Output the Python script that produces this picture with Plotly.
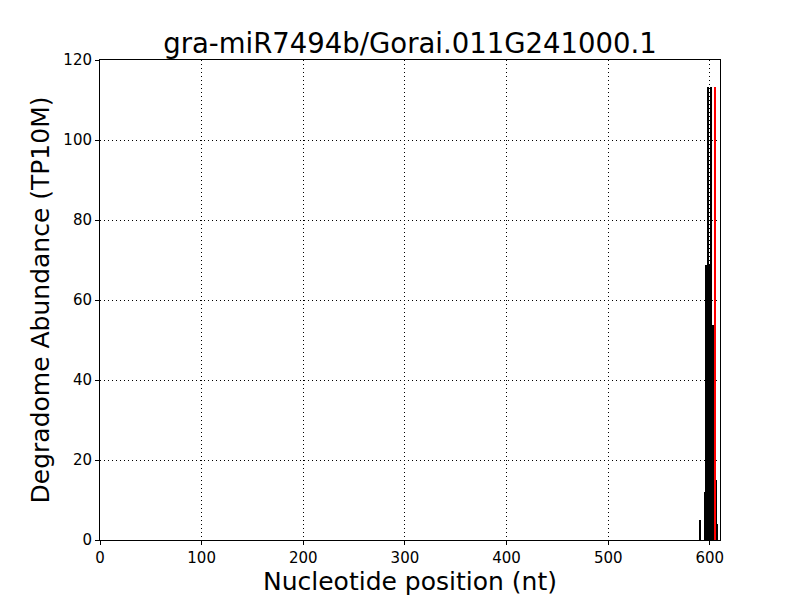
import plotly.graph_objects as go

positions = [590, 595, 596, 597, 598, 599, 600, 601, 602, 603, 604, 606, 607]
abundance = [5, 12, 68.75, 68.75, 113.25, 68.75, 53.75, 113.25, 53.75, 53.75, 53.75, 15, 4]
red_positions = [605]
red_abundance = [113.25]

title = "gra-miR7494b/Gorai.011G241000.1"
x_label = "Nucleotide position (nt)"
y_label = "Degradome Abundance (TP10M)"

FONT = "DejaVu Sans"

fig = go.Figure()
fig.add_trace(go.Bar(x=positions, y=abundance, width=0.9,
                     marker=dict(color="black", line=dict(width=0)), showlegend=False))
fig.add_trace(go.Bar(x=red_positions, y=red_abundance, width=1.2,
                     marker=dict(color="red", line=dict(width=0)), showlegend=False))

axis_common = dict(
    showline=True, linecolor="black", linewidth=1, mirror=True,
    ticks="outside", ticklen=4, tickcolor="black",
    showgrid=True, gridcolor="black", griddash="1px,3px", gridwidth=1,
    zeroline=False, tickfont=dict(family=FONT, size=15, color="black"),
    automargin=False,
)

fig.update_layout(
    width=800, height=600,
    paper_bgcolor="white", plot_bgcolor="white",
    margin=dict(l=92, r=88, t=52, b=68),
    barmode="overlay", bargap=0,
    title=dict(text=title, x=(92 + 310) / 800, xanchor="center", y=1 - 35 / 600, yanchor="middle",
               yref="container", font=dict(family=FONT, size=27.5, color="black")),
    font=dict(family=FONT, color="black"),
)
fig.update_xaxes(range=[0, 610], tickvals=[0, 100, 200, 300, 400, 500, 600],
                 title=dict(text=x_label, font=dict(family=FONT, size=25, color="black"), standoff=6),
                 **axis_common)
fig.update_yaxes(range=[0, 120], tickvals=[0, 20, 40, 60, 80, 100, 120],
                 title=dict(text=y_label, font=dict(family=FONT, size=25, color="black"), standoff=6),
                 **axis_common)

fig.write_html("out.html")
